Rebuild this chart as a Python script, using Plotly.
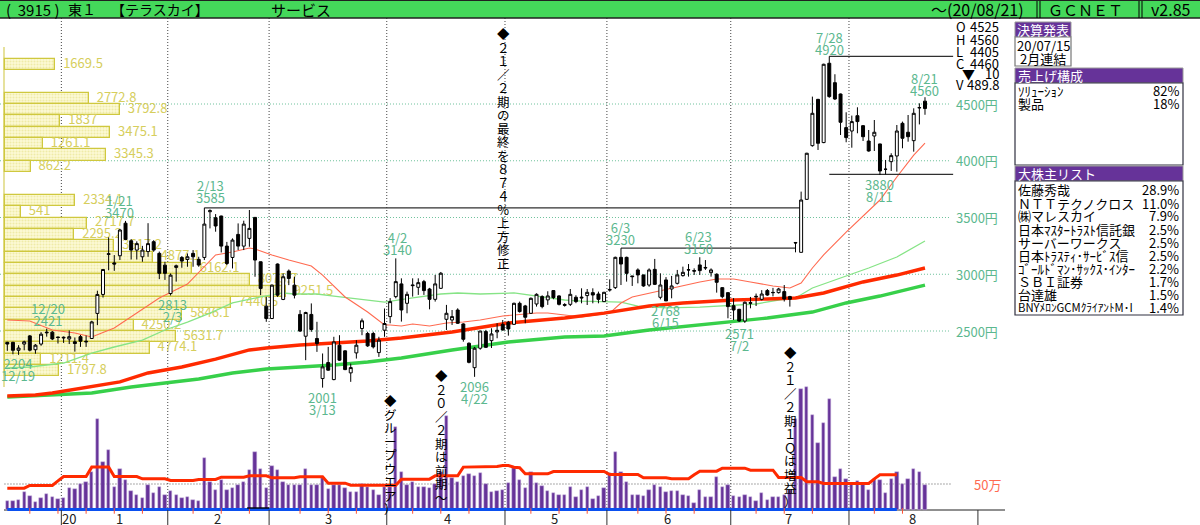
import plotly.graph_objects as go

# ---------- data ----------
opens = [2400,2400,2330,2385,2457,2335,2385,2490,2490,2447,2445,2430,2405,2450,2410,2434,2655,2822,3175,3100,
3163,3450,3295,3213,3154,3200,3287,3184,3080,2830,3060,3148,3130,3184,3131,3148,3551,3498,3513,3248,
3148,3351,3248,3316,3501,3110,2719,2610,3090,2778,3028,2904,2646,2454,2646,2434,2081,2222,2072,2375,
2325,2131,2307,2522,2478,2478,2310,2507,2627,2803,2915,2744,2906,2885,2935,2870,2779,2876,2603,2597,
2685,2562,2392,2177,2348,2495,2415,2492,2559,2577,2559,2744,2721,2656,2738,2803,2774,2856,2809,2733,
2735,2797,2790,2812,2838,2826,2759,2860,2882,3149,3149,2985,3038,2994,2905,3043,2797,2950,2870,2920,
2988,3040,3032,3082,3060,3014,3000,2882,2838,2723,2691,2588,2750,2800,2779,2856,2840,2838,2847,2803,
3280,3193,3660,4133,4541,4160,4859,4688,4588,4292,4262,4397,4309,4174,4218,4148,3925,3992,4042,4330,
4251,4177,4466,4525]
highs = [2405,2405,2375,2415,2465,2385,2490,2520,2500,2450,2452,2505,2443,2465,2460,2590,2855,3042,3325,3169,
3400,3470,3310,3290,3250,3450,3300,3200,3110,3007,3085,3160,3183,3213,3154,3585,3572,3530,3516,3285,
3316,3448,3472,3566,3503,3112,2801,2910,3095,3007,3042,2978,2684,2670,2743,2581,2302,2360,2449,2463,
2330,2213,2419,2610,2493,2493,2449,2698,2790,3140,2964,2847,2964,2964,2950,2880,2994,3020,2730,2685,
2700,2568,2400,2360,2500,2510,2524,2568,2597,2589,2750,2759,2730,2795,2832,2815,2850,2860,2815,2745,
2870,2815,2876,2870,2876,2847,2845,2955,3155,3230,3155,2985,3052,2996,3052,3135,3008,2975,2985,3038,
3067,3090,3052,3150,3125,3052,3008,2885,2840,2790,2695,2760,2800,2830,2860,2870,2880,2880,2905,2810,
3282,3728,4070,4565,4545,4855,4920,4762,4592,4427,4398,4471,4315,4271,4359,4150,4007,4066,4315,4345,
4403,4462,4506,4560]
lows = [2325,2295,2290,2330,2320,2300,2370,2450,2420,2390,2395,2385,2318,2360,2360,2430,2552,2795,3035,3030,
3125,3300,3130,3130,3110,3154,3198,2957,2950,2813,2935,3057,3066,3066,3066,3125,3404,3375,3192,3081,
3051,3213,3213,3242,2978,2816,2581,2605,2801,2772,2904,2787,2493,2243,2493,2316,2001,2150,2066,2237,
2155,2052,2257,2463,2360,2346,2272,2449,2568,2788,2583,2656,2803,2818,2818,2691,2759,2870,2509,2553,
2562,2406,2215,2096,2335,2350,2350,2436,2503,2459,2553,2662,2568,2650,2715,2700,2730,2780,2725,2715,
2720,2745,2744,2729,2744,2744,2755,2847,2870,2905,2935,2897,2920,2890,2890,2905,2779,2768,2788,2910,
2979,2979,2994,2994,3038,2979,2838,2788,2612,2597,2580,2571,2700,2720,2770,2810,2805,2830,2760,2715,
3193,3193,3655,4124,4095,4155,4555,4535,4227,4163,4115,4242,4174,4080,4086,3875,3880,3910,3904,4110,
4168,4080,4320,4405]
closes = [2385,2330,2350,2405,2331,2375,2472,2485,2430,2443,2440,2450,2390,2410,2405,2580,2822,3042,3180,3090,
3390,3307,3213,3270,3213,3270,3213,3008,3008,2992,3075,3116,3154,3154,3081,3442,3560,3425,3248,3095,
3301,3248,3442,3404,3125,2875,2610,2904,2816,2978,2963,2816,2499,2663,2513,2390,2184,2155,2404,2243,
2160,2178,2375,2590,2369,2360,2419,2566,2759,2935,2685,2823,2900,2926,2856,2779,2915,3009,2656,2627,
2568,2427,2224,2348,2500,2356,2474,2506,2509,2518,2744,2671,2621,2788,2823,2715,2809,2794,2735,2727,
2823,2759,2797,2841,2817,2779,2841,2866,3149,3090,3008,2979,2994,2897,3038,2911,2905,2765,2897,2994,
3017,3038,3028,3032,3056,3038,2929,2803,2715,2685,2588,2753,2745,2805,2826,2817,2838,2870,2782,2780,
3276,3654,4066,4418,4154,4850,4565,4544,4339,4204,4345,4345,4212,4086,4251,3910,3925,4045,4262,4198,
4212,4418,4468,4460]
volume = [164,164,183,334,268,144,229,307,255,203,235,425,405,504,536,732,1779,935,1171,438,
791,582,366,275,222,484,327,451,294,366,288,235,255,196,164,1014,536,373,569,373,
425,490,549,778,1125,798,425,844,772,549,471,471,484,791,484,484,615,405,490,490,
425,334,334,503,451,373,275,451,451,1615,732,490,536,438,438,425,503,732,1825,615,
549,660,687,660,719,503,347,360,392,523,818,569,412,739,523,458,366,314,275,275,
445,242,373,445,209,262,412,719,1125,739,536,294,275,262,392,477,445,347,360,360,
275,262,131,373,242,242,647,445,477,262,242,294,242,170,314,190,242,242,275,392,
1766,2354,2407,1844,1295,1700,2158,647,785,589,523,556,523,392,589,569,314,589,739,503,
589,785,739,490]
volume_ma = [419,419,419,419,471,471,471,471,471,560,647,647,647,647,647,831,831,831,831,647,
647,647,647,647,602,602,602,602,602,569,569,569,569,569,589,589,589,589,634,634,
634,634,634,660,660,660,660,621,621,621,621,621,641,641,641,641,641,517,517,517,
517,477,477,477,477,477,477,477,477,477,595,595,595,595,595,595,660,660,660,660,
660,831,831,831,831,831,844,844,863,863,830,818,700,700,700,700,700,745,745,745,
745,745,745,745,745,745,745,687,687,687,687,687,687,621,621,621,621,621,602,602,
602,602,680,752,752,752,752,811,811,811,811,811,772,772,772,772,772,628,628,628,
628,628,543,543,543,510,510,510,510,510,510,510,510,510,600,680,680,680,680]

ma25_i = [0,4,8,12,15,19,23,27,32,34,37,40,43,44,47,50,54,56,60,64,67,68,70,72,75,78,81,84,88,90,94,96,102,107,109,111,115,118,123,126,129,132,136,139,141,143,145,149,155,158,161,163]
ma25_v = [2597,2588,2509,2482,2447,2526,2658,2791,2914,3020,3170,3196,3231,3222,3170,3125,3073,2993,2800,2667,2553,2553,2544,2562,2544,2570,2579,2597,2632,2641,2658,2658,2623,2658,2747,2800,2843,2879,2932,2958,2958,2932,2896,2879,2923,3055,3170,3372,3654,3857,4050,4156]
ma75_i = [0,4,10,15,19,24,28,32,36,40,45,49,51,55,58,61,67,72,77,80,84,90,94,99,102,107,109,112,117,123,129,133,137,140,143,147,153,158,163]
ma75_v = [2174,2183,2218,2306,2359,2420,2509,2579,2658,2747,2800,2835,2826,2826,2808,2791,2755,2791,2826,2835,2826,2835,2808,2773,2764,2755,2755,2720,2703,2711,2729,2738,2773,2791,2879,2949,3055,3152,3293]
ma13w_i = [0,5,8,15,20,25,31,37,43,46,52,58,64,70,79,89,99,106,114,120,129,135,140,145,152,158,163]
ma13w_v = [1927,1936,1954,2007,2051,2130,2183,2253,2333,2350,2377,2394,2412,2438,2491,2570,2614,2658,2720,2747,2773,2782,2791,2835,2932,2993,3055]
ma26w_i = [0,9,15,22,28,34,40,46,52,58,64,70,79,89,99,106,114,123,129,135,143,149,155,163]
ma26w_v = [1918,1936,1954,2007,2042,2077,2130,2165,2183,2200,2227,2262,2333,2403,2447,2456,2509,2553,2579,2614,2667,2747,2808,2905]

profile_band = [4850,4550,4450,4350,4250,4150,4050,3950,3650,3550,3450,3350,3250,3150,3050,2950,2850,2750,2650,2550,2450,2350,2250,2150]
profile_val = [1669.5,2772.8,3792.8,1837,3475.1,1261.1,3345.3,862.2,2334.1,541,2717.7,2295.2,3617.2,4877.1,6162.1,8075.7,9251.5,7440.5,5846.1,4250.2,5631.7,4774.1,1211.4,1797.8]

price_grid = [2500,3000,3500,4000,4500]
price_labels = ["2500円","3000円","3500円","4000円","4500円"]
month_grid = [9.6,28.5,46.5,67.4,88.4,106.5,128.5,149.5]
month_tick_extra = [172.4]
month_label_i = [10.9,20,37.3,57,78.2,97.2,117.2,138.8,160.8]
month_labels = ["20","1","2","3","4","5","6","7","8"]
week_ticks = [4,9,14,19,24,33,38,43,52,57,62,72,77,82,93,98,103,112,117,122,133,138,143,154,159]
ref_lines = [([35,141],[3585,3585]),([109,140],[3230,3230])]
ref_lines2 = [([146,168],[4920,4920]),([146,168],[3880,3880])]

high_low_labels = [
    ("1/21","3470",119,206),("2/13","3585",210,192),("4/2","3140",397,243),("6/3","3230",620,233),
    ("6/23","3150",698,242),("7/28","4920",829,43),("8/21","4560",924,84),("3880","8/11",879,190),
    ("2571","7/2",739,339),("2768","6/15",665,316),("2096","4/22",474,392),("2001","3/13",322,403),
    ("12/20","2421",48,314),("2204","12/19",18,369),("2813","2/3",172,310)]

news = [("◆２１／２期の最終を８７４％上方修正",503,22),
        ("◆グループウエア）",390,389),
        ("◆２０／２期は前期～",441,364),
        ("◆２１／２期１Ｑは増益）",790,341)]

ohlc_rows = [("O","4525",26),("H","4560",39),("L","4405",51),("C","4460",63),("V","489.8",85)]
sales = [("ｿﾘｭｰｼｮﾝ","82%",90),("製品","18%",103)]
holders = [("佐藤秀哉","28.9%"),("ＮＴＴテクノクロス","11.0%"),("㈱マレスカイ","7.9%"),("日本ﾏｽﾀｰﾄﾗｽﾄ信託銀","2.5%"),
           ("サーバーワークス","2.5%"),("日本ﾄﾗｽﾃｨ･ｻｰﾋﾞｽ信","2.5%"),("ｺﾞｰﾙﾄﾞﾏﾝ･ｻｯｸｽ･ｲﾝﾀｰ","2.2%"),("ＳＢＩ証券","1.7%"),
           ("台達雄","1.5%"),("BNYﾒﾛﾝGCMｸﾗｲｱﾝﾄM･I","1.4%")]
holder_y = [189,203,215,229,242,255,268,281,294,307]

# ---------- style ----------
W, H = 1200, 525
FONT = "Liberation Sans Narrow, Noto Sans CJK JP, sans-serif"
CJK = "Noto Sans CJK JP, sans-serif"
TEAL = "#5cb88f"; YEL = "#d6ce5c"; PUR = "#663399"
DOT = "1px,2px"

fig = go.Figure()
idx = list(range(len(closes)))
assert len(opens)==len(highs)==len(lows)==len(closes)==len(volume)==164

# volume-profile
fig.add_trace(go.Bar(y=profile_band, x=profile_val, orientation="h", width=100, xaxis="x", yaxis="y",
    marker=dict(color="#fcfad6", line=dict(color="#cfc83e", width=1.3),
                pattern=dict(shape=".", fgcolor="#e2dc78", bgcolor="#fcfad6", size=3, solidity=0.4)),
    showlegend=False, hoverinfo="skip"))
fig.add_trace(go.Scatter(y=profile_band, x=[v+260 for v in profile_val], mode="text", xaxis="x", yaxis="y",
    text=[str(v) for v in profile_val], textposition="middle right",
    textfont=dict(family=FONT, size=13, color=YEL), showlegend=False, hoverinfo="skip"))

# volume pane
fig.add_trace(go.Bar(x=idx, y=volume, width=0.6, xaxis="x2", yaxis="y2",
    marker=dict(color=PUR, line=dict(color="#cdbbe0", width=0.5)), showlegend=False, hoverinfo="skip"))
fig.add_trace(go.Scatter(x=idx[:len(volume_ma)], y=volume_ma, mode="lines", xaxis="x2", yaxis="y2",
    line=dict(color="#ff2a00", width=3), showlegend=False, hoverinfo="skip"))
fig.add_trace(go.Scatter(x=[0, len(volume_ma)-1], y=[0,0], mode="lines", xaxis="x2", yaxis="y2",
    line=dict(color="#0a50f0", width=3), showlegend=False, hoverinfo="skip"))
fig.add_trace(go.Scatter(x=week_ticks, y=[-28]*len(week_ticks), mode="markers", xaxis="x2", yaxis="y2",
    marker=dict(symbol="line-ns", size=4, line=dict(color="#ff5030", width=1)), showlegend=False, hoverinfo="skip"))

# moving averages + reference lines (below candles)
for xs, ys, col, wd in [(ma75_i, ma75_v, "#86e486", 1.3), (ma25_i, ma25_v, "#ff6a50", 1.1),
                        (ma26w_i, ma26w_v, "#37d04a", 3.4), (ma13w_i, ma13w_v, "#ff2a00", 3.4)]:
    fig.add_trace(go.Scatter(x=xs, y=ys, mode="lines", xaxis="x3", yaxis="y3",
        line=dict(color=col, width=wd), showlegend=False, hoverinfo="skip"))
for xs, ys in ref_lines + ref_lines2:
    fig.add_trace(go.Scatter(x=xs, y=ys, mode="lines", xaxis="x3", yaxis="y3",
        line=dict(color="#303030", width=1.2), showlegend=False, hoverinfo="skip"))

# candles
fig.add_trace(go.Candlestick(x=idx, open=opens, high=highs, low=lows, close=closes, xaxis="x4", yaxis="y4",
    increasing=dict(line=dict(color="#000000", width=1), fillcolor="#ffffff"),
    decreasing=dict(line=dict(color="#000000", width=1), fillcolor="#000000"),
    whiskerwidth=0, showlegend=False, hoverinfo="skip"))

# ---------- axes: each maps straight to the full page ----------
x_idx_range = [(0-7.3)/5.63, (W-7.3)/5.63]
y_price_range = [4500-(H-104)*500/56.75, 4500+104*500/56.75]
y_vol_range = [-(H-509.5)/0.051, 509.5/0.051]
x_prof_range = [-4.5/0.0304, (W-4.5)/0.0304]
hidden = dict(visible=False, showgrid=False, zeroline=False, fixedrange=True)
layout_axes = dict(
    xaxis=dict(range=x_prof_range, domain=[0,1], **hidden),
    yaxis=dict(range=y_price_range, domain=[0,1], **hidden),
    xaxis2=dict(range=x_idx_range, overlaying="x", **hidden),
    yaxis2=dict(range=y_vol_range, overlaying="y", **hidden),
    xaxis3=dict(range=x_idx_range, overlaying="x", **hidden),
    yaxis3=dict(range=y_price_range, overlaying="y", **hidden),
    xaxis4=dict(range=x_idx_range, overlaying="x", rangeslider=dict(visible=False), **hidden),
    yaxis4=dict(range=y_price_range, overlaying="y", **hidden),
)

# ---------- shapes ----------
shapes = []
def rect(x0,y0,x1,y1,fill,line="rgba(0,0,0,0)",lw=0,layer="above"):
    shapes.append(dict(type="rect",xref="paper",yref="paper",x0=x0/W,x1=x1/W,y0=1-y0/H,y1=1-y1/H,
                       fillcolor=fill,line=dict(color=line,width=lw),layer=layer))
def pline(x0,y0,x1,y1,col,lw=1,dash="solid",layer="below"):
    shapes.append(dict(type="line",xref="paper",yref="paper",x0=x0/W,x1=x1/W,y0=1-y0/H,y1=1-y1/H,
                       line=dict(color=col,width=lw,dash=dash),layer=layer))
# header
rect(0,0,1200,18,"#44d85a","#000000",0)
pline(0,18,1200,18,"#202020",1.5,layer="above")
pline(0,0.5,1200,0.5,"#202020",1,layer="above")
for xp in (1037,1040,1139,1142):
    pline(xp,1,xp,18,"#000000",1,layer="above")
# price grid
for p in price_grid:
    shapes.append(dict(type="line",xref="x2",yref="y",x0=-1.3,x1=167.6,y0=p,y1=p,layer="below",
                       line=dict(color="#6cc09a",width=1,dash=DOT)))
# month grid
for m in month_grid:
    shapes.append(dict(type="line",xref="x2",yref="paper",x0=m,x1=m,y0=1-18/H,y1=1-510/H,layer="below",
                       line=dict(color="#444444",width=1,dash=DOT)))
for m in month_grid+month_tick_extra:
    shapes.append(dict(type="line",xref="x2",yref="paper",x0=m,x1=m,y0=1-510/H,y1=0,layer="above",
                       line=dict(color="#303030",width=1)))
# volume 50万 reference
shapes.append(dict(type="line",xref="x2",yref="y2",x0=-0.5,x1=167.6,y0=500,y1=500,layer="below",
                   line=dict(color="#555555",width=1,dash=DOT)))
# axes lines
pline(4,47,4,387,"#d6ce5c",1.2)
pline(4,510,1005,510,"#202020",1)
shapes.append(dict(type="line",xref="x2",yref="paper",x0=42.6,x1=46.5,y0=1-508/H,y1=1-508/H,layer="above",
                   line=dict(color="#000000",width=1.4)))
# panels
rect(1015,22,1071,37,PUR,"#999999",1)
rect(1015,37,1071,66,"#ffffff","#777777",1.2)
rect(1015,68,1183,83,PUR,"#999999",1)
rect(1015,83,1183,165,"#ffffff","#303040",1.2)
rect(1015,166,1183,181,PUR,"#999999",1)
rect(1015,181,1183,315,"#ffffff","#303040",1.2)

# ---------- annotations ----------
ann = []
def t(x,y,s,col="#000000",size=13,anchor="left",fam=FONT):
    ann.append(dict(xref="paper",yref="paper",x=x/W,y=1-y/H,text=s,showarrow=False,xanchor=anchor,yanchor="middle",
                    font=dict(family=fam,size=size,color=col),align={"left":"left","right":"right","center":"center"}[anchor],
                    borderpad=0,bgcolor="rgba(0,0,0,0)"))

t(5,9.5,"(  3915 )",size=15)
t(67,9.5,"東１",size=14,fam=CJK)
t(110,9.5,"【テラスカイ】",size=14,fam=CJK)
t(270,9.5,"サービス",size=15,fam=CJK)
t(930,9.5,"～(20/08/21)",size=16)
t(1047,9.5,"ＧＣＮＥＴ",size=15,fam=CJK)
t(1150,9.5,"v2.85",size=16)

def stacked(lines, inner):
    return "<br>".join(f'<span style="font-size:{inner}px">{c}</span>' for c in lines)

for a,b,xp,yp in high_low_labels:
    ann.append(dict(xref="paper",yref="paper",x=xp/W,y=1-yp/H,text=stacked([a,b],13),showarrow=False,
                    xanchor="center",yanchor="middle",align="center",font=dict(family=FONT,size=9.3,color=TEAL)))
for txt,xp,yp in news:
    ann.append(dict(xref="paper",yref="paper",x=xp/W,y=1-yp/H,text=stacked(list(txt),12.5),showarrow=False,
                    xanchor="center",yanchor="top",font=dict(family=CJK,size=10.4,color="#000000"),align="center"))
for p,lab in zip(price_grid,price_labels):
    ann.append(dict(xref="paper",yref="y",x=1000/W,y=p,text=lab,showarrow=False,xanchor="right",yanchor="middle",
                    font=dict(family=FONT,size=13,color=TEAL)))
for k,v,yp in ohlc_rows:
    t(955,yp,k); t(1000,yp,v,anchor="right")
t(961,73,"▼",size=13,fam=CJK); t(1000,73,"10",anchor="right")
t(973,484,"50万","#ff6a50")
for lab,i in zip(month_labels,month_label_i):
    ann.append(dict(xref="x2",yref="paper",x=i,y=1-518/H,text=lab,showarrow=False,xanchor="center",yanchor="middle",
                    font=dict(family=FONT,size=13,color="#202020")))
# panels text
t(1043,29.5,"決算発表","#ffffff",13,"center",CJK)
t(1043,45,"20/07/15","#000000",13,"center")
t(1043,58,"2月連結","#000000",13,"center",CJK)
t(1017,75.5,"売上げ構成","#ffffff",13,"left",CJK)
for a,b,yp in sales:
    t(1017,yp,a,size=13,fam=CJK); t(1180,yp,b,anchor="right")
t(1017,173.5,"大株主リスト","#ffffff",13,"left",CJK)
for (a,b),yp in zip(holders,holder_y):
    t(1017,yp,a,size=(11.3 if a.startswith("BNY") else 13),fam=CJK); t(1180,yp,b,anchor="right")

fig.update_layout(width=W,height=H,margin=dict(l=0,r=0,t=0,b=0),paper_bgcolor="#ffffff",plot_bgcolor="#ffffff",
                  showlegend=False,bargap=0,barmode="overlay",boxgap=0.25,shapes=shapes,annotations=ann,
                  hovermode=False,**layout_axes)
fig.write_html("out.html", config={"displayModeBar":False},
               post_script="document.body.style.margin='0';document.documentElement.style.overflow='hidden';")
